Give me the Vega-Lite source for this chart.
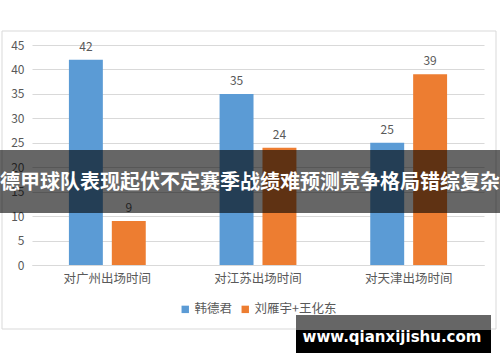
{
  "$schema": "https://vega.github.io/schema/vega-lite/v6.json",
  "width": 452,
  "height": 220,
  "autosize": {"type": "none"},
  "padding": {"left": 32, "top": 45, "right": 16, "bottom": 97},
  "background": "white",
  "config": {
    "view": {"stroke": null},
    "font": "Noto Sans CJK SC",
    "legend": {"layout": {"bottom": {"anchor": "middle"}}}
  },
  "datasets": {
    "bars": [
      {"category": "对广州出场时间", "series": "韩德君", "value": 42},
      {"category": "对广州出场时间", "series": "刘雁宇+王化东", "value": 9},
      {"category": "对江苏出场时间", "series": "韩德君", "value": 35},
      {"category": "对江苏出场时间", "series": "刘雁宇+王化东", "value": 24},
      {"category": "对天津出场时间", "series": "韩德君", "value": 25},
      {"category": "对天津出场时间", "series": "刘雁宇+王化东", "value": 39}
    ]
  },
  "layer": [
    {
      "data": {"values": [{"k": 1}]},
      "mark": {"type": "rect", "fill": "transparent", "stroke": "#d9d9d9", "strokeWidth": 1},
      "encoding": {"x": {"value": -30}, "x2": {"value": 464}, "y": {"value": -14}, "y2": {"value": 284}}
    },
    {
      "data": {"name": "bars"},
      "mark": {"type": "bar"},
      "encoding": {
        "x": {
          "field": "category", "type": "nominal",
          "sort": ["对广州出场时间", "对江苏出场时间", "对天津出场时间"],
          "scale": {"paddingInner": 0.49, "paddingOuter": 0.245},
          "axis": {"title": null, "labelAngle": 0, "labelFontSize": 12.5, "labelColor": "#595959", "domain": true, "domainColor": "#d9d9d9", "ticks": false, "labelPadding": 7}
        },
        "xOffset": {
          "field": "series", "type": "nominal",
          "sort": ["韩德君", "刘雁宇+王化东"],
          "scale": {"paddingInner": 0.209, "paddingOuter": 0}
        },
        "y": {
          "field": "value", "type": "quantitative",
          "scale": {"domain": [0, 45], "nice": false},
          "axis": {"title": null, "values": [0, 5, 10, 15, 20, 25, 30, 35, 40, 45], "labelOverlap": false, "domain": false, "ticks": false, "labelColor": "#595959", "labelFontSize": 12, "labelPadding": 8, "gridColor": "#d9d9d9"}
        },
        "color": {
          "field": "series", "type": "nominal",
          "scale": {"domain": ["韩德君", "刘雁宇+王化东"], "range": ["#5b9bd5", "#ed7d31"]},
          "legend": {"title": null, "orient": "bottom", "direction": "horizontal", "symbolType": "square", "labelFontSize": 12.5, "labelColor": "#595959", "symbolSize": 55, "offset": 18, "columnPadding": 6, "labelOffset": 3, "symbolStrokeWidth": 0}
        }
      }
    },
    {
      "data": {"name": "bars"},
      "mark": {"type": "text", "baseline": "bottom", "dy": -6, "fontSize": 12, "color": "#595959"},
      "encoding": {
        "x": {"field": "category", "type": "nominal", "sort": ["对广州出场时间", "对江苏出场时间", "对天津出场时间"], "axis": {"title": null, "labelAngle": 0, "labelFontSize": 12.5, "labelColor": "#595959", "domain": true, "domainColor": "#d9d9d9", "ticks": false, "labelPadding": 7}},
        "xOffset": {"field": "series", "type": "nominal", "sort": ["韩德君", "刘雁宇+王化东"]},
        "y": {"field": "value", "type": "quantitative", "axis": {"title": null, "values": [0, 5, 10, 15, 20, 25, 30, 35, 40, 45], "labelOverlap": false, "domain": false, "ticks": false, "labelColor": "#595959", "labelFontSize": 12, "labelPadding": 8, "gridColor": "#d9d9d9"}},
        "text": {"field": "value", "type": "quantitative"}
      }
    },
    {
      "data": {"values": [{"k": 1}]},
      "mark": {"type": "rect", "fill": "black", "opacity": 0.6},
      "encoding": {"x": {"value": -32}, "x2": {"value": 468}, "y": {"value": 105}, "y2": {"value": 168}}
    },
    {
      "data": {"values": [{"t": "德甲球队表现起伏不定赛季战绩难预测竞争格局错综复杂"}]},
      "mark": {"type": "text", "fontSize": 20, "fontWeight": "bold", "color": "white", "align": "center", "baseline": "middle"},
      "encoding": {"x": {"value": 218}, "y": {"value": 138}, "text": {"field": "t"}}
    },
    {
      "data": {"values": [{"k": 1}]},
      "mark": {"type": "rect", "fill": "#666666"},
      "encoding": {"x": {"value": 264}, "x2": {"value": 459}, "y": {"value": 270}, "y2": {"value": 285}}
    },
    {
      "data": {"values": [{"k": 1}]},
      "mark": {"type": "rect", "fill": "black"},
      "encoding": {"x": {"value": 264}, "x2": {"value": 459}, "y": {"value": 285}, "y2": {"value": 308}}
    },
    {
      "data": {"values": [{"t": "www.qianxijishu.com"}]},
      "mark": {"type": "text", "font": "DejaVu Sans", "fontSize": 15, "fontWeight": "bold", "color": "white", "align": "center", "baseline": "middle"},
      "encoding": {"x": {"value": 360}, "y": {"value": 292}, "text": {"field": "t"}}
    }
  ]
}
